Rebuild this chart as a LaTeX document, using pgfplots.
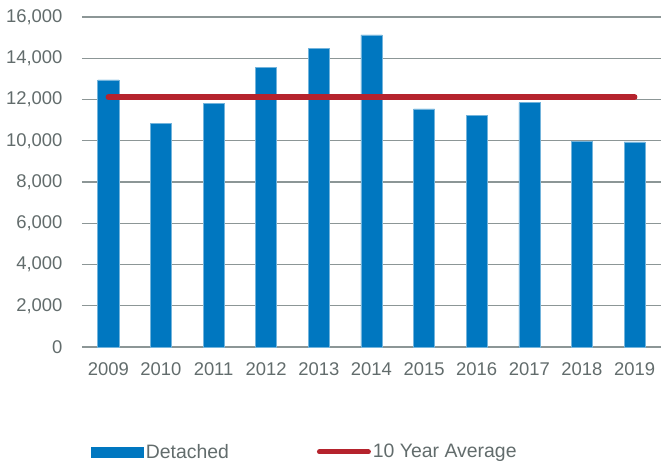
\documentclass[border=0pt]{standalone}
\usepackage{pgfplots}
\pgfplotsset{compat=1.18}
\usepackage{fontspec}
\setmainfont{Liberation Sans}
\definecolor{barblue}{RGB}{0,119,192}
\definecolor{avgred}{RGB}{181,35,45}
\definecolor{txtgray}{RGB}{98,108,108}
\definecolor{gridgray}{RGB}{140,150,150}

\begin{document}
\begin{tikzpicture}
\begin{axis}[
  name=ax,
  scale only axis,
  width=579bp, height=330bp,
  xmin=2008.5, xmax=2019.5,
  ymin=0, ymax=16000,
  ytick={0,2000,...,16000},
  xtick={2009,...,2019},
  scaled y ticks=false,
  major tick length=0pt,
  axis line style={draw=none},
  ymajorgrids,
  grid style={gridgray, line width=1.2bp},
  font=\fontsize{18.5}{21}\selectfont,
  tick label style={txtgray},
  /pgf/number format/assume math mode=true,
  yticklabel style={/pgf/number format/fixed, /pgf/number format/1000 sep={,}, xshift=-16bp},
  xticklabel style={/pgf/number format/1000 sep={}, yshift=-12bp},
  legend columns=2,
  legend style={at={(0.0155,-0.318)}, anchor=west, draw=none, fill=none,
    text=txtgray, inner sep=0pt, font=\fontsize{19.5}{22}\selectfont,
    nodes={inner sep=2bp},
    /tikz/every even column/.append style={column sep=86bp}},
]
\addplot[ybar, bar width=0.4, fill=barblue, draw=barblue!55!white, line width=0.6bp,
  legend image code/.code={\fill[barblue] (0bp,-5bp) rectangle (52bp,5bp);}]
  coordinates {(2009,12950) (2010,10860) (2011,11810) (2012,13560) (2013,14480)
    (2014,15130) (2015,11540) (2016,11230) (2017,11850) (2018,9970) (2019,9940)};
\addlegendentry{Detached}
\addplot[avgred, line width=5.5bp, line cap=round,
  legend image code/.code={\draw[avgred, line width=5bp, line cap=round] (2.5bp,0bp) -- (51.5bp,0bp);}]
  coordinates {(2009,12120) (2019,12120)};
\addlegendentry{10 Year Average}
\coordinate (bl) at (rel axis cs:0,0);
\coordinate (tr) at (rel axis cs:1,1);
\end{axis}
\pgfresetboundingbox
\path ([xshift=-82bp,yshift=-117bp]bl) rectangle ([yshift=17bp]tr);
\end{tikzpicture}
\end{document}
